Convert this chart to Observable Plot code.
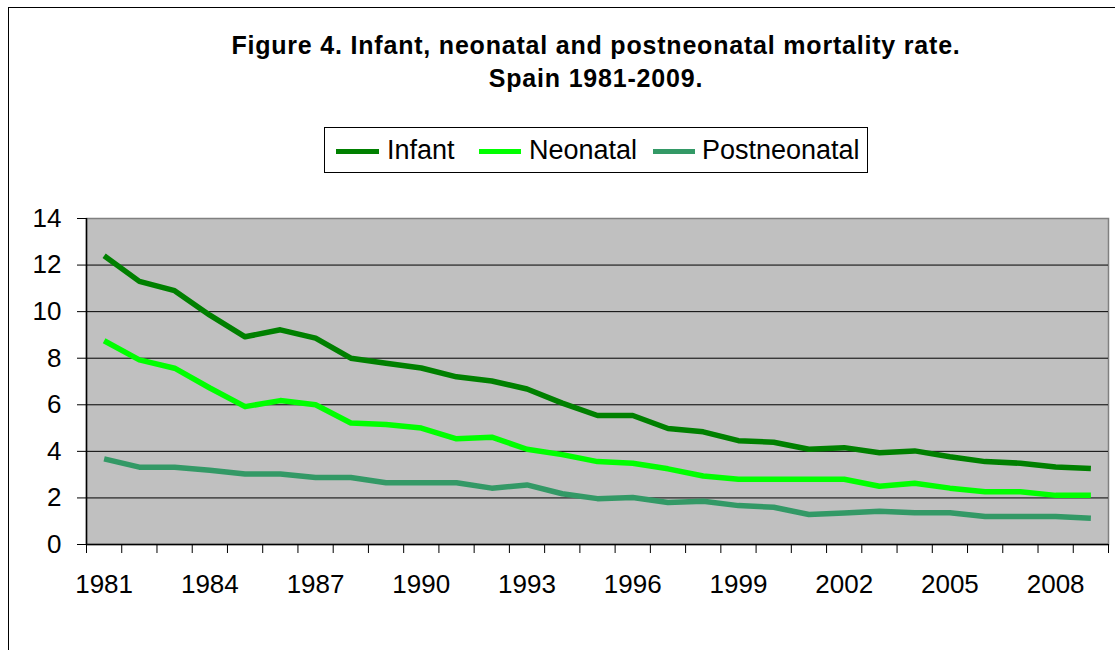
<!DOCTYPE html>
<html>
<head>
<meta charset="utf-8">
<script src="https://cdn.jsdelivr.net/npm/d3@7"></script>
<script src="https://cdn.jsdelivr.net/npm/@observablehq/plot@0.6"></script>
<style>
  body { margin: 0; background: #fff; font-family: "Liberation Sans", Arial, sans-serif; }
  #wrap { position: relative; width: 1115px; height: 650px; overflow: hidden; background: #fff; }
  #frame { position: absolute; left: 8px; top: 7px; width: 1300px; height: 800px; border: 1.5px solid #000; box-sizing: border-box; }
  #title { position: absolute; left: 0; top: 29px; width: 1192px; text-align: center; font-weight: bold;
           font-size: 25px; letter-spacing: 0.8px; line-height: 33px; color: #000; }
  #legend { position: absolute; left: 324px; top: 127px; width: 544px; height: 46px; border: 1px solid #000; box-sizing: border-box; }
  .sw { position: absolute; height: 5px; top: 21px; }
  .lt { position: absolute; top: 7px; font-size: 27px; line-height: 31px; color: #000; }
  #chart { position: absolute; left: 0; top: 200px; }
</style>
</head>
<body>
<div id="wrap">
  <div id="frame"></div>
  <div id="title"></div>
  <div id="legend"></div>
  <div id="chart"></div>
</div>
<script>
// ---- data ----
const titleLines = ["Figure 4. Infant, neonatal and postneonatal mortality rate.", "Spain 1981-2009."];
const years = [1981,1982,1983,1984,1985,1986,1987,1988,1989,1990,1991,1992,1993,1994,1995,
               1996,1997,1998,1999,2000,2001,2002,2003,2004,2005,2006,2007,2008,2009];
const infant = [12.4,11.3,10.9,9.85,8.92,9.22,8.86,8.0,7.78,7.58,7.2,7.02,6.68,6.07,5.54,
                5.54,4.98,4.84,4.46,4.39,4.09,4.16,3.94,4.02,3.77,3.56,3.49,3.33,3.26];
const neonatal = [8.75,7.93,7.57,6.72,5.92,6.18,6.0,5.22,5.15,5.0,4.54,4.61,4.09,3.86,3.56,
                  3.49,3.25,2.94,2.8,2.8,2.8,2.8,2.5,2.63,2.42,2.27,2.27,2.11,2.11];
const postneonatal = [3.68,3.32,3.32,3.19,3.03,3.03,2.88,2.88,2.65,2.65,2.65,2.42,2.56,2.18,1.97,
                      2.02,1.8,1.86,1.67,1.6,1.29,1.35,1.43,1.36,1.36,1.2,1.2,1.2,1.13];
const seriesNames = ["Infant", "Neonatal", "Postneonatal"];
const seriesColors = ["#008000", "#00ff00", "#339966"];
const yTicks = [0,2,4,6,8,10,12,14];
const xLabelYears = [1981,1984,1987,1990,1993,1996,1999,2002,2005,2008];

// ---- title & legend ----
document.getElementById("title").innerHTML = titleLines.join("<br>");
const legendPos = [{sw:11, w:43, tx:62}, {sw:154, w:42, tx:204}, {sw:328, w:42, tx:377}];
const leg = document.getElementById("legend");
seriesNames.forEach((n, i) => {
  const s = document.createElement("div");
  s.className = "sw"; s.style.left = legendPos[i].sw + "px"; s.style.width = legendPos[i].w + "px";
  s.style.background = seriesColors[i];
  leg.appendChild(s);
  const t = document.createElement("div");
  t.className = "lt"; t.style.left = legendPos[i].tx + "px"; t.textContent = n;
  leg.appendChild(t);
});

// ---- chart ----
const seriesValues = [infant, neonatal, postneonatal];
const rows = [];
seriesNames.forEach((name, k) => years.forEach((yr, i) => rows.push({year: yr, rate: seriesValues[k][i], series: name})));
const boundaries = [years[0] - 0.5, ...years.map(y => y + 0.5)];

const chart = Plot.plot({
  width: 1115, height: 450,
  marginLeft: 86, marginRight: 7, marginTop: 18, marginBottom: 106,
  style: {fontFamily: '"Liberation Sans", Arial, sans-serif', fontSize: "26px", background: "transparent", color: "#000"},
  x: {domain: [years[0] - 0.5, years[years.length - 1] + 0.5]},
  y: {domain: [0, 14]},
  color: {domain: seriesNames, range: seriesColors},
  marks: [
    Plot.frame({fill: "#c0c0c0", stroke: "#808080", strokeWidth: 1.5}),
    Plot.gridY(yTicks.filter(v => v > 0 && v < 14), {stroke: "#000", strokeOpacity: 1, strokeWidth: 1}),
    Plot.ruleY([0], {stroke: "#000", strokeWidth: 1.5}),
    Plot.ruleX([years[0] - 0.5], {stroke: "#000", strokeWidth: 1.5}),
    Plot.axisY(yTicks, {tickSize: 9, tickPadding: 16, stroke: "#000", label: null, tickFormat: d => String(d)}),
    Plot.axisX(boundaries, {tickSize: 9, stroke: "#000", tickFormat: () => "", label: null}),
    Plot.axisX(xLabelYears, {tickSize: 0, tickPadding: 30, tickFormat: d => String(d), label: null}),
    Plot.line(rows, {x: "year", y: "rate", z: "series", stroke: "series", strokeWidth: 5.5, strokeLinejoin: "round", strokeLinecap: "butt"})
  ]
});
document.getElementById("chart").appendChild(chart);
</script>
</body>
</html>
